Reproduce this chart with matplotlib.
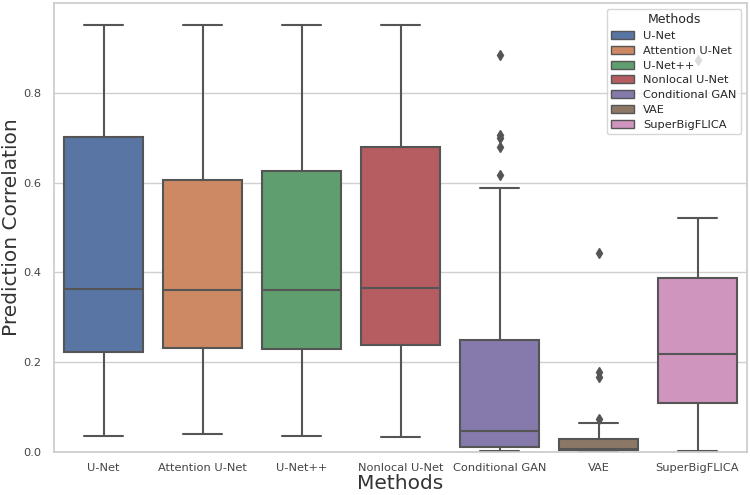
import matplotlib
matplotlib.use("Agg")
import matplotlib.pyplot as plt
import matplotlib.patches as mpatches
import seaborn as sns

sns.set_theme(style="whitegrid")
plt.rcParams["font.family"] = ["DejaVu Sans"]

# Methods and per-method box statistics
methods = ["U-Net", "Attention U-Net", "U-Net++", "Nonlocal U-Net",
           "Conditional GAN", "VAE", "SuperBigFLICA"]
whislo = [0.036, 0.040, 0.035, 0.033, 0.003, 0.000, 0.002]
q1 = [0.223, 0.232, 0.229, 0.238, 0.011, 0.004, 0.109]
med = [0.362, 0.361, 0.361, 0.365, 0.046, 0.007, 0.218]
q3 = [0.701, 0.605, 0.625, 0.679, 0.249, 0.029, 0.387]
whishi = [0.950, 0.951, 0.952, 0.952, 0.587, 0.065, 0.521]
fliers = [[], [], [], [],
          [0.883, 0.707, 0.700, 0.680, 0.616],
          [0.443, 0.177, 0.167, 0.073],
          [0.873]]

palette = [sns.desaturate(c, 0.75) for c in sns.color_palette("deep", len(methods))]
line_col = "#555555"

fig, ax = plt.subplots(figsize=(7.5, 4.95), dpi=100)
fig.subplots_adjust(left=0.072, right=0.996, bottom=0.087, top=0.994)

stats = []
for i, m in enumerate(methods):
    stats.append(dict(label=m, whislo=whislo[i], q1=q1[i], med=med[i],
                      q3=q3[i], whishi=whishi[i], fliers=fliers[i]))

bp = ax.bxp(stats, positions=range(len(methods)), widths=0.8,
            patch_artist=True, showfliers=True,
            boxprops=dict(edgecolor=line_col, linewidth=1.5),
            medianprops=dict(color=line_col, linewidth=1.5),
            whiskerprops=dict(color=line_col, linewidth=1.5),
            capprops=dict(color=line_col, linewidth=1.5),
            flierprops=dict(marker="d", markerfacecolor=line_col,
                            markeredgecolor=line_col, markersize=5))
for patch, c in zip(bp["boxes"], palette):
    patch.set_facecolor(c)
for cap in bp["caps"]:
    x = cap.get_xdata()
    mid = (x[0] + x[1]) / 2
    cap.set_xdata([mid - 0.2, mid + 0.2])

ax.set_xlim(-0.5, len(methods) - 0.5)
ax.set_ylim(0, 1.0)
ax.set_yticks([0.0, 0.2, 0.4, 0.6, 0.8])
ax.set_yticklabels(["0.0", "0.2", "0.4", "0.6", "0.8"])
ax.set_xticks(range(len(methods)))
ax.set_xticklabels(methods)
ax.tick_params(axis="both", labelsize=8.2, colors="#444444")
ax.tick_params(axis="x", pad=2)
ax.tick_params(axis="y", pad=3)
ax.grid(axis="x", visible=False)
ax.grid(axis="y", color="#d0d0d0", linewidth=1)
for s in ax.spines.values():
    s.set_color("#cccccc")

ax.set_xlabel("Methods", fontsize=14.5, color="#333333", labelpad=1)
ax.set_ylabel("Prediction Correlation", fontsize=14.5, color="#333333", labelpad=2)

handles = [mpatches.Patch(facecolor=c, edgecolor=line_col, label=m)
           for m, c in zip(methods, palette)]
ax.legend(handles=handles, title="Methods", loc="upper right",
          fontsize=8.2, title_fontsize=9, frameon=True, framealpha=0.8,
          borderaxespad=0.5, handlelength=2.0, handleheight=0.7,
          labelspacing=0.42)

fig.savefig("out.png", dpi=100)
